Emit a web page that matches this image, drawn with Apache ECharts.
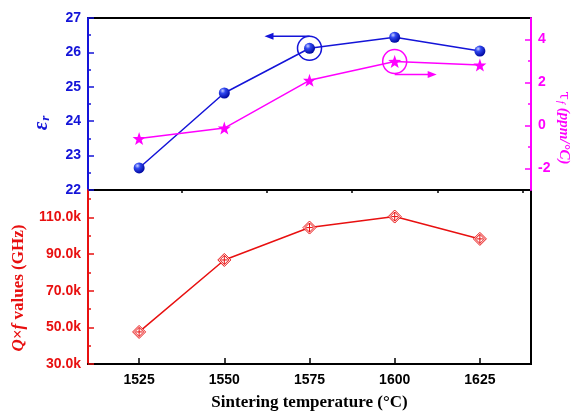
<!DOCTYPE html>
<html><head><meta charset="utf-8">
<script src="https://cdn.jsdelivr.net/npm/echarts@6/dist/echarts.min.js"></script>
<style>html,body{margin:0;padding:0;background:#fff}#c{width:572px;height:414px}</style>
</head><body><div id="c"></div>
<script>
var temps = [1525, 1550, 1575, 1600, 1625];
var epsR = [22.64, 24.82, 26.12, 26.44, 26.04];
var tauF = [-0.61, -0.12, 2.1, 2.98, 2.81];
var qf = [47500, 86800, 104500, 110500, 98300];
var xMajor = [1525, 1550, 1575, 1600, 1625];
var xMinor = [1537.5, 1562.5, 1587.5, 1612.5, 1637.5];
var tauMajor = [-2, 0, 2, 4];
var tauMinor = [-1, 1, 3];
var qfMajor = [30000, 50000, 70000, 90000, 110000];
var qfMinor = [40000, 60000, 80000, 100000, 120000];

var BLUE = '#1414d8', MAG = '#ff00ff', RED = '#e81010';
var SERIF = 'Liberation Serif, Times New Roman, serif';
var labelFont = {fontFamily: 'Liberation Sans, Arial, sans-serif', fontWeight: 'bold', fontSize: 14};
function pairs(xs, ys){ return xs.map(function(x,i){return [x, ys[i]];}); }

var chart = echarts.init(document.getElementById('c'), null, {renderer:'canvas'});
var star = 'path://M0,-10L2.35,-3.24L9.51,-3.09L3.8,1.24L5.88,8.09L0,4.2L-5.88,8.09L-3.8,1.24L-9.51,-3.09L-2.35,-3.24Z';
var diamond = 'path://M0,-10L10,0L0,10L-10,0Z M0,-7L7,0L0,7L-7,0Z M0,-7L0,7 M-5,0L5,0';

var option = {
  animation: false,
  grid: [
    {left: 88, top: 18, right: 41, height: 172, show: true, borderColor: '#000', borderWidth: 2, backgroundColor: 'transparent', containLabel: false, outerBoundsMode: 'none'},
    {left: 88, top: 190, right: 41, height: 174, show: true, borderColor: '#000', borderWidth: 2, backgroundColor: 'transparent', containLabel: false, outerBoundsMode: 'none'}
  ],
  xAxis: [
    {gridIndex: 0, type: 'value', min: 1510, max: 1640, show: false},
    {gridIndex: 1, type: 'value', min: 1510, max: 1640,
      axisLine: {show: true, lineStyle: {color: '#000', width: 2}},
      axisTick: {show: true, inside: true, length: 6, customValues: xMajor, lineStyle: {color: '#000', width: 1.5}},
      axisLabel: Object.assign({color: '#000', margin: 9, customValues: xMajor,
        formatter: function(v){ return String(v); }}, labelFont),
      splitLine: {show: false},
      name: 'Sintering temperature (°C)', nameLocation: 'middle', nameGap: 30,
      nameTextStyle: {fontFamily: SERIF, fontWeight: 'bold', fontSize: 17, color: '#000'}
    },
    {gridIndex: 1, type: 'value', min: 1510, max: 1640,
      axisLine: {show: false},
      axisTick: {show: true, inside: true, length: 3, customValues: xMinor, lineStyle: {color: '#000', width: 1.5}},
      axisLabel: {show: false}, splitLine: {show: false}
    }
  ],
  yAxis: [
    {gridIndex: 0, type: 'value', min: 22, max: 27, interval: 1, position: 'left',
      axisLine: {show: true, lineStyle: {color: BLUE, width: 2}},
      axisTick: {show: true, inside: true, length: 6, lineStyle: {color: BLUE, width: 1.5}},
      minorTick: {show: true, splitNumber: 2, length: 3, lineStyle: {color: BLUE, width: 1.5}},
      axisLabel: Object.assign({color: BLUE, margin: 7}, labelFont),
      splitLine: {show: false}
    },
    {gridIndex: 0, type: 'value', min: -3, max: 5, position: 'right',
      axisLine: {show: true, lineStyle: {color: MAG, width: 2}},
      axisTick: {show: true, inside: true, length: 6, customValues: tauMajor, lineStyle: {color: MAG, width: 1.5}},
      axisLabel: Object.assign({color: MAG, margin: 7, customValues: tauMajor}, labelFont),
      splitLine: {show: false}
    },
    {gridIndex: 0, type: 'value', min: -3, max: 5, position: 'right',
      axisLine: {show: false},
      axisTick: {show: true, inside: true, length: 3, customValues: tauMinor, lineStyle: {color: MAG, width: 1.5}},
      axisLabel: {show: false}, splitLine: {show: false}
    },
    {gridIndex: 1, type: 'value', min: 30000, max: 125000, position: 'left',
      axisLine: {show: true, lineStyle: {color: RED, width: 2}},
      axisTick: {show: true, inside: true, length: 6, customValues: qfMajor, lineStyle: {color: RED, width: 1.5}},
      axisLabel: Object.assign({color: RED, margin: 7, customValues: qfMajor,
        formatter: function(v){ return (v/1000).toFixed(1) + 'k'; }}, labelFont),
      splitLine: {show: false}
    },
    {gridIndex: 1, type: 'value', min: 30000, max: 125000, position: 'left',
      axisLine: {show: false},
      axisTick: {show: true, inside: true, length: 3, customValues: qfMinor, lineStyle: {color: RED, width: 1.5}},
      axisLabel: {show: false}, splitLine: {show: false}
    }
  ],
  series: [
    {type: 'line', xAxisIndex: 0, yAxisIndex: 0, data: pairs(temps, epsR),
      symbol: 'circle', symbolSize: 11, lineStyle: {color: BLUE, width: 1.5},
      itemStyle: {color: new echarts.graphic.RadialGradient(0.35, 0.3, 0.7, [
        {offset: 0, color: '#c8d0ff'}, {offset: 0.35, color: '#3048f0'}, {offset: 1, color: '#0008a0'}])}},
    {type: 'line', xAxisIndex: 0, yAxisIndex: 1, data: pairs(temps, tauF),
      symbol: star, symbolSize: 13, lineStyle: {color: MAG, width: 1.5},
      itemStyle: {color: MAG}},
    {type: 'line', xAxisIndex: 1, yAxisIndex: 3, data: pairs(temps, qf),
      symbol: diamond, symbolSize: 13, lineStyle: {color: RED, width: 1.5},
      itemStyle: {color: 'rgba(255,255,255,0.9)', borderColor: RED, borderWidth: 1}}
  ]
};
chart.setOption(option);

var pE = chart.convertToPixel({xAxisIndex: 0, yAxisIndex: 0}, [temps[2], epsR[2]]);
var pT = chart.convertToPixel({xAxisIndex: 0, yAxisIndex: 1}, [temps[3], tauF[3]]);
var r = 12;
function arrow(x1, y1, x2, y2, color){
  var dir = x2 > x1 ? 1 : -1;
  return [
    {type: 'line', shape: {x1: x1, y1: y1, x2: x2 - dir*6, y2: y2}, style: {stroke: color, lineWidth: 1.5}, z: 100},
    {type: 'polygon', shape: {points: [[x2, y2], [x2 - dir*9, y2 - 3.5], [x2 - dir*9, y2 + 3.5]]}, style: {fill: color}, z: 100}
  ];
}
var titles = [
  {type: 'text', x: 42, y: 123, rotation: Math.PI/2, z: 100,
    style: {text: '{e|ε}{s|r}', align: 'center', verticalAlign: 'middle', rich: {
      e: {fontFamily: SERIF, fontStyle: 'italic', fontWeight: 'bold', fontSize: 21, fill: BLUE},
      s: {fontFamily: SERIF, fontStyle: 'italic', fontWeight: 'bold', fontSize: 13, fill: BLUE, padding: [8,0,0,1]}
    }}},
  {type: 'text', x: 564, y: 128, rotation: -Math.PI/2, z: 100,
    style: {text: '{t|τ}{s|f}{p| (ppm/°C)}', align: 'center', verticalAlign: 'middle', rich: {
      t: {fontFamily: 'DejaVu Serif, serif', fontSize: 15, fill: MAG},
      s: {fontFamily: SERIF, fontStyle: 'italic', fontSize: 11, fill: MAG, padding: [7,0,0,1]},
      p: {fontFamily: SERIF, fontStyle: 'italic', fontWeight: 'bold', fontSize: 15, fill: MAG}
    }}},
  {type: 'text', x: 19, y: 288, rotation: Math.PI/2, z: 100,
    style: {text: '{q|Q}{x|×}{q|f}{v| values (GHz)}', align: 'center', verticalAlign: 'middle', rich: {
      q: {fontFamily: SERIF, fontStyle: 'italic', fontWeight: 'bold', fontSize: 17, fill: RED},
      x: {fontFamily: SERIF, fontWeight: 'bold', fontSize: 17, fill: RED},
      v: {fontFamily: SERIF, fontWeight: 'bold', fontSize: 17, fill: RED}
    }}}
];
var g = [
  {type: 'circle', shape: {cx: pE[0], cy: pE[1], r: r}, style: {fill: 'none', stroke: BLUE, lineWidth: 1.5}, z: 100},
  {type: 'circle', shape: {cx: pT[0], cy: pT[1], r: r}, style: {fill: 'none', stroke: MAG, lineWidth: 1.5}, z: 100}
].concat(arrow(pE[0], pE[1] - r, pE[0] - 45, pE[1] - r, BLUE))
 .concat(arrow(pT[0], pT[1] + r + 1, pT[0] + 42, pT[1] + r + 1, MAG))
 .concat(titles);
chart.setOption({graphic: g});
</script></body></html>
